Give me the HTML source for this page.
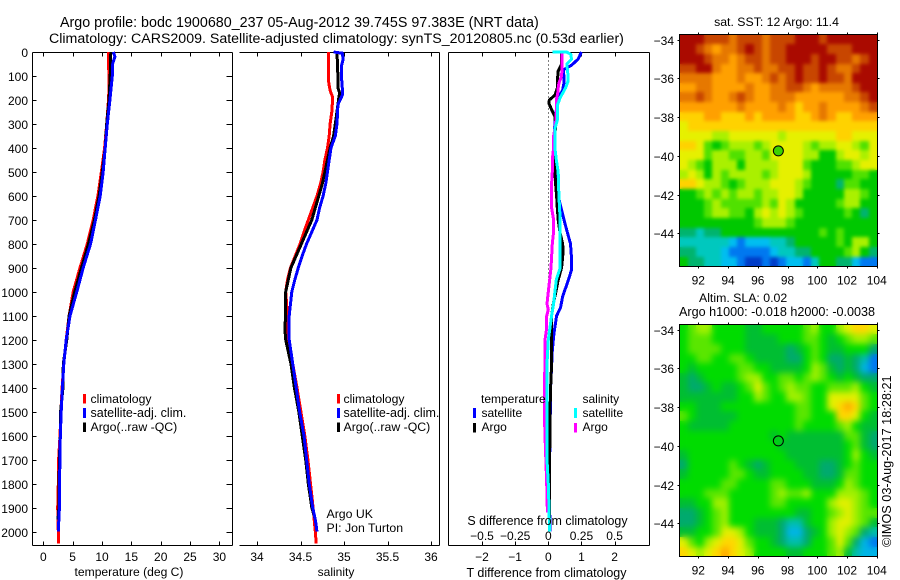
<!DOCTYPE html>
<html lang="en">
<head>
<meta charset="utf-8">
<title>Argo profile</title>
<style>
html,body{margin:0;padding:0;background:#fff;}
svg{display:block;}
text{font-family:"Liberation Sans",sans-serif;font-size:12px;fill:#000;}
.t{font-size:14px;}
</style>
</head>
<body>
<svg id="chart" xmlns="http://www.w3.org/2000/svg" width="900" height="580" viewBox="0 0 900 580">
<defs>
<filter id="sst-smooth" x="0" y="0" width="1" height="1" color-interpolation-filters="sRGB">
<feGaussianBlur in="SourceGraphic" stdDeviation="1.8" result="b"/>
<feMerge><feMergeNode in="SourceGraphic"/><feMergeNode in="b"/></feMerge>
</filter>
<filter id="sla-smooth" x="0" y="0" width="1" height="1" color-interpolation-filters="sRGB">
<feGaussianBlur in="SourceGraphic" stdDeviation="3.2" result="b"/>
<feMerge><feMergeNode in="SourceGraphic"/><feMergeNode in="b"/></feMerge>
</filter>
</defs>
</svg>
<script>
// ---------- depth ticks ----------
const depthTicks = [0,100,200,300,400,500,600,700,800,900,1000,1100,1200,1300,1400,1500,1600,1700,1800,1900,2000];
const tempTicks = [0,5,10,15,20,25,30];
const salTicks = [34,34.5,35,35.5,36];
const salTickLabels = ["34","34.5","35","35.5","36"];
const tDiffTicks = [-2,-1,0,1,2];
const tDiffLabels = ["\u22122","\u22121","0","1","2"];
const sDiffTicks = [-0.5,-0.25,0,0.25,0.5];
const sDiffLabels = ["\u22120.5","\u22120.25","0","0.25","0.5"];
const lonTicks = [92,94,96,98,100,102,104];
const latTicks = [-34,-36,-38,-40,-42,-44];

// ---------- temperature panel ----------
const tempClimDepth = [0,20,50,100,150,200,300,400,500,600,700,800,900,1000,1100,1200,1300,1400,1500,1600,1700,1800,1900,2000,2050];
const tempClim = [11.08,11.1,11.1,11.2,11.2,11.1,10.8,10.45,9.9,9.3,8.5,7.5,6.25,5.1,4.4,3.9,3.5,3.2,3.0,2.85,2.6,2.55,2.45,2.55,2.55];
const tempSatDepth = [0,20,50,100,150,200,300,400,500,600,700,800,900,1000,1100,1200,1300,1400,1500,1600,1700,1800,1900,2000];
const tempSat = [11.95,12.2,11.8,11.75,11.55,11.35,10.9,10.55,10.2,9.7,8.9,8.05,6.8,5.7,4.55,3.9,3.5,3.25,3.05,2.9,2.85,2.75,2.75,2.55];
const tempArgoDepth = [0,100,200,300,400,500,600,700,800,900,1000,1100,1200,1300,1400,1500,1600,1700,1800,1900,1950];
const tempArgo = [11.5,11.4,11.2,10.8,10.55,10.05,9.5,8.7,7.7,6.5,5.35,4.4,4.0,3.4,3.35,2.95,2.9,2.75,2.7,2.65,2.5];

// ---------- salinity panel ----------
const salClimDepth = [0,100,130,160,190,250,300,350,400,450,500,550,600,650,700,750,800,850,900,950,1000,1100,1200,1300,1400,1500,1600,1700,1800,1900,2000,2050];
const salClim = [34.82,34.82,34.825,34.84,34.87,34.86,34.84,34.83,34.81,34.78,34.76,34.73,34.69,34.64,34.59,34.54,34.495,34.44,34.385,34.35,34.33,34.35,34.35,34.41,34.46,34.505,34.55,34.585,34.615,34.645,34.67,34.68];
const salSatDepth = [0,5,30,60,100,150,180,220,300,350,400,450,500,550,600,650,700,750,800,850,900,950,1000,1100,1200,1300,1400,1500,1600,1700,1800,1900,1950,2000];
const salSat = [34.88,34.98,34.99,34.97,34.97,34.98,34.98,34.93,34.92,34.9,34.85,34.83,34.81,34.79,34.76,34.72,34.69,34.63,34.57,34.52,34.475,34.435,34.4,34.37,34.37,34.41,34.45,34.49,34.54,34.57,34.6,34.64,34.67,34.69];
const salArgoDepth = [0,100,150,170,190,220,300,350,400,450,500,550,600,650,700,750,800,850,900,950,1000,1100,1150,1200,1300,1400,1500,1600,1700,1800,1900,1950];
const salArgo = [34.92,34.93,34.93,34.95,34.94,34.93,34.9,34.88,34.84,34.81,34.78,34.75,34.71,34.67,34.63,34.57,34.51,34.45,34.39,34.36,34.33,34.33,34.32,34.33,34.39,34.43,34.48,34.52,34.56,34.59,34.63,34.67];

// ---------- difference panel ----------
const dTempSatDepth = [0,30,55,75,100,130,160,190,230,300,400,500,550,600,660,730,800,860,910,965,1020,1065,1100,1175,1245,1400,1600,1800,2000];
const dTempSat = [1.0,0.9,0.7,0.45,0.47,0.47,0.43,0.3,0.25,0.2,0.15,0.2,0.25,0.3,0.4,0.53,0.67,0.7,0.7,0.57,0.43,0.37,0.25,0.17,0.12,0.07,0.05,0.03,0.05];
const dTempArgoDepth = [0,50,80,120,150,180,200,215,240,270,300,400,450,500,550,600,650,700,750,800,830,900,950,1000,1050,1100,1200,1300,1400,1500,1950];
const dTempArgo = [0.4,0.4,0.3,0.27,0.27,0.2,0.03,0.02,0.1,0.2,0.22,0.18,0.2,0.2,0.22,0.25,0.27,0.3,0.35,0.43,0.45,0.4,0.3,0.23,0.15,0.1,0.1,0.1,0.07,0.05,0.03];
const dSalSatDepth = [0,1,10,30,50,80,100,120,150,170,190,220,280,320,400,450,500,600,700,800,900,950,1000,1050,1100,1200,1300,1400,1500,1600,1700,1800,1900,2000];
const dSalSat = [0.03,0.14,0.17,0.175,0.14,0.145,0.15,0.15,0.13,0.11,0.09,0.07,0.07,0.05,0.05,0.06,0.075,0.08,0.09,0.09,0.09,0.06,0.05,0.04,0.025,0,-0.01,-0.01,-0.01,-0.01,-0.01,0,0.005,0.01];
const dSalArgoDepth = [0,50,100,130,150,175,200,250,300,350,400,450,500,550,600,650,700,750,800,900,1000,1050,1075,1100,1150,1200,1300,1400,1500,1600,1800,1920];
const dSalArgo = [0.105,0.105,0.1,0.08,0.075,0.07,0.06,0.06,0.055,0.04,0.04,0.03,0.03,0.025,0.025,0.025,0.04,0.04,0.03,0.02,0,-0.01,0,-0.012,-0.012,-0.025,-0.025,-0.03,-0.03,-0.025,-0.012,-0.007];

// ---------- maps: colour-level grids ----------
const sstLevels = [
[13,13,13,12,12,12,11,12,12,12,11,12,12,12,13,13,13,12,13,13,13,13,13,13],
[13,13,12,11,10,11,11,12,13,12,11,12,12,13,13,13,13,13,12,12,12,13,13,13],
[13,13,13,12,11,11,10,11,12,12,11,12,12,13,13,13,12,13,13,12,12,11,12,13],
[12,12,13,13,11,10,10,11,11,12,11,11,12,12,13,12,12,13,12,11,11,12,13,13],
[11,11,11,11,10,10,10,11,10,10,11,12,11,12,13,12,12,13,12,12,11,13,13,13],
[10,10,11,11,10,10,10,10,11,10,10,11,11,12,12,11,10,11,11,11,11,12,13,13],
[11,11,12,11,10,10,11,12,11,10,10,11,11,11,10,10,10,10,10,10,11,11,12,13],
[10,10,10,10,10,10,10,11,10,10,10,10,11,10,9,10,10,11,10,10,10,10,11,12],
[9,9,9,10,10,9,9,9,10,9,10,10,10,10,9,9,10,11,10,9,9,10,10,10],
[8,9,9,9,9,9,9,9,9,9,9,9,9,9,9,9,9,9,9,9,9,9,9,9],
[8,8,8,8,7,7,8,8,8,8,8,8,7,8,8,8,8,8,8,9,9,8,8,8],
[9,9,8,6,5,6,7,7,7,6,7,8,8,8,8,7,6,7,7,8,8,7,6,8],
[8,8,8,6,7,7,6,6,7,7,6,8,8,8,8,7,7,5,5,7,8,8,7,8],
[8,7,6,5,7,7,7,5,7,7,7,7,8,8,8,6,5,5,5,6,6,7,8,8],
[7,8,7,5,7,6,7,7,7,7,6,7,8,8,8,7,5,5,5,5,5,6,6,5],
[9,9,8,7,7,6,5,6,7,7,7,8,8,8,7,6,5,5,5,4,6,6,5,5],
[5,5,6,7,6,7,6,7,7,6,7,7,8,8,7,5,5,5,5,5,7,7,6,5],
[5,5,5,6,7,6,6,6,6,6,7,6,8,7,5,5,5,5,5,6,7,7,5,5],
[5,5,5,6,7,7,6,6,5,7,8,7,8,7,6,5,5,5,5,5,6,5,4,5],
[5,5,5,5,5,5,5,5,5,6,7,7,7,6,5,5,5,5,5,5,5,5,5,5],
[4,4,3,4,4,5,5,5,5,5,5,5,5,5,5,5,5,6,5,6,5,5,5,5],
[3,3,3,3,3,3,2,1,2,2,2,3,3,4,5,5,5,5,5,6,5,7,7,5],
[4,4,3,3,3,2,1,1,1,1,1,2,3,3,4,4,5,5,5,5,6,7,5,4],
[5,4,4,3,3,2,2,1,0,0,1,0,1,2,2,1,3,5,5,4,4,2,1,1]
];
const slaLevels = [
[5,6,7,7,5,5,5,5,4,4,5,5,5,5,5,6,7,5,5,7,8,9,9,8],
[5,6,6,6,5,5,5,5,4,4,4,4,5,5,5,6,6,5,4,5,6,7,7,6],
[5,6,6,6,6,5,5,5,4,4,4,4,4,3,4,5,6,5,4,4,5,5,5,3],
[5,5,6,6,5,5,6,6,5,4,4,4,4,3,3,5,6,5,3,3,4,3,2,0],
[5,4,5,5,5,5,5,6,6,5,5,4,4,4,4,5,7,6,4,3,4,3,1,0],
[4,3,4,5,5,5,5,6,7,7,5,5,6,6,5,6,7,6,5,4,5,4,3,3],
[4,3,3,4,5,4,4,5,6,8,6,5,6,7,6,6,5,5,6,6,6,7,5,4],
[4,4,4,4,4,4,4,5,5,7,6,5,5,7,7,6,5,5,8,8,8,8,6,5],
[5,5,4,4,4,5,5,5,5,5,5,5,5,5,6,6,5,5,8,9,10,9,6,5],
[6,5,4,4,4,4,4,5,5,5,5,5,5,5,6,6,5,5,5,9,9,8,5,4],
[5,4,4,4,4,4,5,5,5,5,5,5,5,5,6,5,5,5,5,6,7,5,4,4],
[5,5,5,5,5,5,5,5,5,5,5,4,5,4,4,4,4,4,4,4,6,6,4,3],
[5,5,5,5,5,5,5,5,5,5,5,5,4,4,4,4,4,4,4,4,5,6,4,3],
[4,5,5,5,5,5,5,5,5,5,5,5,5,4,4,4,4,4,4,4,5,7,5,4],
[3,5,5,5,5,5,6,5,4,3,4,5,5,5,4,4,4,3,3,4,5,6,5,5],
[4,5,5,5,5,5,6,6,5,4,4,5,5,5,5,4,4,3,3,4,6,6,5,5],
[5,5,5,5,5,6,6,5,5,5,5,6,6,5,5,5,4,4,4,5,7,6,5,5],
[5,5,5,6,6,6,5,5,5,5,5,6,7,6,6,7,5,5,5,7,7,7,6,5],
[4,4,5,5,7,7,5,5,5,5,5,6,6,5,5,5,5,5,7,8,8,7,6,5],
[3,3,4,5,6,7,5,5,5,5,5,5,5,5,4,4,5,5,6,7,8,7,6,6],
[3,3,4,5,6,7,5,5,5,4,4,4,3,2,2,4,5,5,7,8,8,7,6,4],
[4,4,5,5,6,8,8,7,5,4,4,4,3,1,1,3,4,5,7,8,7,6,3,2],
[8,6,5,7,8,9,9,8,6,5,5,4,3,2,2,3,5,5,6,8,6,3,1,0],
[9,8,7,8,9,10,9,8,7,5,5,5,5,4,4,5,5,5,6,7,4,2,1,1]
];
const sstPalette = ["#003cc8","#0078f0","#00bef0","#00c8be","#00b46e","#00c800","#50e100","#aaf000","#e6f000","#ffd200","#ffa000","#e67800","#c84600","#aa0a00"];
const slaPalette = ["#0078f0","#00b4e6","#00beaa","#00aa6e","#00be32","#00dc00","#5ae600","#a0f000","#e1f000","#ffd700","#ffaa00"];
const argoLon = 97.383;
const argoLat = -39.745;

// ---------- helpers ----------
const NS = "http://www.w3.org/2000/svg";
const svg = document.getElementById("chart");
function mk(tag, attrs, parent){
  const e = document.createElementNS(NS, tag);
  for (const k in attrs) e.setAttribute(k, attrs[k]);
  (parent || svg).appendChild(e);
  return e;
}
function label(str, x, y, anchor, name, cls, size){
  const attrs = {x:x, y:y, "text-anchor":anchor||"start"};
  if (cls) attrs["class"] = cls;
  const e = mk("text", attrs);
  e.textContent = str;
  
  
  if (size) e.style.fontSize = size + "px";
  return e;
}
function line(x1,y1,x2,y2,name){
  const e = mk("line",{x1:x1,y1:y1,x2:x2,y2:y2,stroke:"#000","stroke-width":1,"shape-rendering":"crispEdges"});
  
  
  return e;
}
const yDepth = d => 52 + d*0.2398;
const xTemp = t => 43.3 + t*5.87;
const xSal = s => 257 + (s-34)*87;
const xDT = t => 548.3 + t*33.15;
const xDS = s => 548.3 + s*132.6;
const TOP = 52.5, BOT = 545.5;

function curve(xs, ds, xFn, color, name){
  const pts = xs.map((v,i)=> xFn(v).toFixed(1)+","+yDepth(ds[i]).toFixed(1)).join(" ");
  const e = mk("polyline",{points:pts,fill:"none",stroke:color,"stroke-width":3,"shape-rendering":"crispEdges","stroke-linejoin":"miter"});
  
  
  return e;
}
function swatch(x,y,h,color,name){
  const e = mk("rect",{x:x,y:y,width:3,height:h,fill:color});
  
  
}
function frame(l,r,leftLine,rightLine,prefix){
  line(l,TOP,r,TOP,prefix+"-top-axis");
  line(l,BOT,r,BOT,prefix+"-bottom-axis");
  if (leftLine) line(l,TOP,l,BOT,prefix+"-left-axis");
  if (rightLine) line(r,TOP,r,BOT,prefix+"-right-axis");
}
function xTicks(vals, fn, prefix){
  vals.forEach(v=>{
    const x = Math.round(fn(v))+0.5;
    line(x,TOP,x,TOP+4,prefix+"-top-tick");
    line(x,BOT,x,BOT-4,prefix+"-bottom-tick");
  });
}

// ---------- titles ----------
label("Argo profile: bodc 1900680_237 05-Aug-2012 39.745S 97.383E (NRT data)",60,27,"start","main-title","t",14.3);
label("Climatology: CARS2009. Satellite-adjusted climatology: synTS_20120805.nc (0.53d earlier)",49,43,"start","climatology-subtitle","t",14.2);

// ---------- panel 1: temperature ----------
frame(32.5,232.5,true,true,"temperature-panel");
xTicks(tempTicks,xTemp,"temperature");
depthTicks.forEach(d=>{
  const y = Math.round(yDepth(d))+0.5;
  line(32.5,y,36.5,y,"depth-left-tick");
  line(232.5,y,226.5,y,"depth-right-tick");
  label(String(d),28,y+4.5,"end","depth-tick-label");
});
tempTicks.forEach(t=> label(String(t),xTemp(t),561,"middle","temperature-tick-label"));
label("temperature (deg C)",129,576,"middle","temperature-axis-title",null,12.1);
curve(tempClim,tempClimDepth,xTemp,"#ff0000","temperature-climatology-line");
curve(tempArgo,tempArgoDepth,xTemp,"#000000","temperature-argo-line");
curve(tempSat,tempSatDepth,xTemp,"#0000ff","temperature-satellite-line");
swatch(83,394,9.5,"#ff0000","temperature-legend-climatology-swatch");
swatch(83,408,10,"#0000ff","temperature-legend-satellite-swatch");
swatch(83,422.5,9.5,"#000000","temperature-legend-argo-swatch");
label("climatology",90.5,403,"start","temperature-legend-climatology",null,12.2);
label("satellite-adj. clim.",90.5,417,"start","temperature-legend-satellite",null,12.5);
label("Argo(..raw -QC)",90.5,431,"start","temperature-legend-argo",null,12.3);

// ---------- panel 2: salinity ----------
frame(239.5,439.5,false,true,"salinity-panel");
xTicks(salTicks,xSal,"salinity");
salTicks.forEach((s,i)=> label(salTickLabels[i],xSal(s),561,"middle","salinity-tick-label"));
label("salinity",336,576,"middle","salinity-axis-title");
curve(salClim,salClimDepth,xSal,"#ff0000","salinity-climatology-line");
curve(salArgo,salArgoDepth,xSal,"#000000","salinity-argo-line");
curve(salSat,salSatDepth,xSal,"#0000ff","salinity-satellite-line");
swatch(337,394,9.5,"#ff0000","salinity-legend-climatology-swatch");
swatch(337,408,10,"#0000ff","salinity-legend-satellite-swatch");
swatch(337,422.5,9.5,"#000000","salinity-legend-argo-swatch");
label("climatology",343.5,403,"start","salinity-legend-climatology",null,12.2);
label("satellite-adj. clim.",343.5,417,"start","salinity-legend-satellite",null,12.5);
label("Argo(..raw -QC)",343.5,431,"start","salinity-legend-argo",null,12.3);
label("Argo UK",326.5,518,"start","data-centre-label",null,12.3);
label("PI: Jon Turton",326.5,532,"start","principal-investigator-label",null,12.3);

// ---------- panel 3: differences ----------
frame(448.5,649.5,true,true,"difference-panel");
xTicks(tDiffTicks,xDT,"t-difference");
const zeroLine = mk("line",{x1:548.5,y1:TOP,x2:548.5,y2:yDepth(1000),stroke:"#000","stroke-width":1,"stroke-dasharray":"1 3","shape-rendering":"crispEdges"});


curve(dTempSat,dTempSatDepth,xDT,"#0000ff","t-difference-satellite-line");
curve(dTempArgo,dTempArgoDepth,xDT,"#000000","t-difference-argo-line");
curve(dSalArgo,dSalArgoDepth,xDS,"#ff00ff","s-difference-argo-line");
curve(dSalSat,dSalSatDepth,xDS,"#00ffff","s-difference-satellite-line");
label("temperature",481,403,"start","difference-legend-temperature-heading");
label("salinity",582.5,403,"start","difference-legend-salinity-heading");
swatch(473,408,10,"#0000ff","difference-legend-t-satellite-swatch");
swatch(473,423,9.5,"#000000","difference-legend-t-argo-swatch");
swatch(574,408,10,"#00ffff","difference-legend-s-satellite-swatch");
swatch(574,423,9.5,"#ff00ff","difference-legend-s-argo-swatch");
label("satellite",481.5,417,"start","difference-legend-t-satellite");
label("Argo",481.5,431,"start","difference-legend-t-argo");
label("satellite",582.5,417,"start","difference-legend-s-satellite");
label("Argo",582.5,431,"start","difference-legend-s-argo");
label("S difference from climatology",547.5,525,"middle","s-difference-axis-title",null,12.45);
sDiffTicks.forEach((s,i)=> label(sDiffLabels[i],xDS(s),540,"middle","s-difference-tick-label"));
tDiffTicks.forEach((t,i)=> label(tDiffLabels[i],xDT(t),561,"middle","t-difference-tick-label"));
label("T difference from climatology",546.5,577,"middle","t-difference-axis-title",null,12.5);

// ---------- maps ----------
function drawMap(grid, palette, y34, prefix, filterId){
  const LON0 = 90.74, LON1 = 104.0;
  const lat0 = -33.74, lat1 = -45.7;
  const xLon = lon => 698.3 + (lon-92)*14.87;
  const yLat = lat => y34 + (-34-lat)*19.375;
  const nr = grid.length, nc = grid[0].length;
  const dLon = (LON1-LON0)/nc, dLat = (lat0-lat1)/nr;
  const group = mk("g",{filter:"url(#"+filterId+")"});
  
  
  grid.forEach((row,r)=>{
    row.forEach((lvl,c)=>{
      const x0 = Math.round(xLon(LON0+c*dLon)), x1 = Math.round(xLon(LON0+(c+1)*dLon));
      const y0 = Math.round(yLat(lat0-r*dLat)), y1 = Math.round(yLat(lat0-(r+1)*dLat));
      const cell = mk("rect",{x:x0,y:y0,width:x1-x0,height:y1-y0,fill:palette[lvl],"shape-rendering":"crispEdges"},group);
      
      
    });
  });
  const L = Math.round(xLon(LON0))-0.5, R = Math.round(xLon(LON1))+0.5;
  const T = Math.round(yLat(lat0))-0.5, B = Math.round(yLat(lat1))+0.5;
  const box = mk("rect",{x:L,y:T,width:R-L,height:B-T,fill:"none",stroke:"#000","stroke-width":1,"shape-rendering":"crispEdges"});
  
  
  lonTicks.forEach(lon=>{
    const x = Math.round(xLon(lon))+0.5;
    line(x,T,x,T-2,prefix+"-top-tick");
    line(x,B,x,B+2,prefix+"-bottom-tick");
    label(String(lon),xLon(lon),B+18,"middle",prefix+"-longitude-label");
  });
  latTicks.forEach(lat=>{
    const y = Math.round(yLat(lat))+0.5;
    line(L,y,L-2,y,prefix+"-left-tick");
    line(R,y,R+2,y,prefix+"-right-tick");
    label("\u2212"+String(-lat),674,y+4.5,"end",prefix+"-latitude-label");
  });
  // Argo position marker
  const c = mk("circle",{cx:xLon(argoLon),cy:yLat(argoLat),r:5,stroke:"#000","stroke-width":1,fill:prefix==="sst-map"?"#3cd200":"none"});
  
  
}
drawMap(sstLevels,sstPalette,39.6,"sst-map","sst-smooth");
drawMap(slaLevels,slaPalette,329.6,"sla-map","sla-smooth");
label("sat. SST: 12 Argo: 11.4",776.5,26,"middle","sst-map-title",null,12.3);
label("Altim. SLA: 0.02",699,302,"start","sla-map-title",null,12.3);
label("Argo h1000: -0.018 h2000: -0.0038",679,316,"start","argo-steric-height-label",null,12.6);
const stamp = label("\u00a9IMOS 03-Aug-2017 18:28:21",0,0,"start","creation-timestamp",null,12.7);
stamp.setAttribute("transform","translate(891,547) rotate(-90)");
</script>
</body>
</html>
